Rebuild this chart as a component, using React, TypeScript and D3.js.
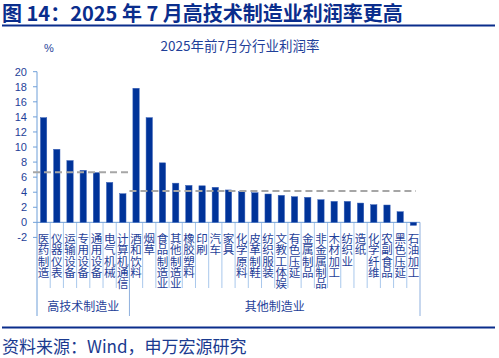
import React from "react";
import * as d3 from "d3";

const categories = [
  "医药制造", "仪器仪表", "运输设备", "专用设备", "通用设备", "电气机械", "计算机通信",
  "酒和饮料", "烟草", "食品制造业", "其他制造业", "橡胶塑料", "印刷", "汽车", "家具",
  "化学原料", "皮革制鞋", "纺织服装", "文教工体娱", "有色压延", "金属制品", "非金属制品",
  "木材加工", "纺织业", "造纸", "化学纤维", "农副食品", "黑色压延", "石油加工",
];
const values = [
  13.9, 9.7, 8.2, 6.9, 6.6, 5.3, 3.8,
  17.8, 13.9, 7.9, 5.2, 4.9, 4.85, 4.65, 4.3,
  4.07, 3.93, 3.76, 3.58, 3.4, 3.32, 3.0,
  2.78, 2.78, 2.56, 2.34, 2.3, 1.41, -0.4,
];
const groupNames = ["高技术制造业", "其他制造业"];
const groupSizes = [7, 22];
const groupAverages = [6.65, 4.15];
const yTicks = [-2, 0, 2, 4, 6, 8, 10, 12, 14, 16, 18, 20];

const W = 499;
const H = 358;
const BLUE = "#003399";
const TEXT = "#1F3F99";
const CJK = "'Noto Sans CJK SC', 'Noto Sans', sans-serif";
const NUM = "'Liberation Sans', Arial, sans-serif";

export default function App() {
  const x = d3.scaleBand<string>().domain(categories).range([37, 420]).paddingInner(0).paddingOuter(0);
  const y = d3.scaleLinear().domain([-2, 20]).range([237.4, 71.7]);
  const bw = x.bandwidth();
  const barW = bw * 0.48;
  const x0 = x.range()[0];
  const x1 = x.range()[1];

  const bounds: number[] = [x0];
  let acc = 0;
  groupSizes.forEach((s) => {
    acc += s;
    bounds.push(x0 + acc * bw);
  });

  return (
    <svg width={W} height={H} style={{ position: "absolute", left: 0, top: 0 }}>
      <rect x={0} y={0} width={W} height={H} fill="#fff" />
      {/* Title */}
      <text x={2} y={20.5} fontFamily={CJK} fontWeight="bold" fontSize={20} fill="#0A2D8C">
        图 14：2025 年 7 月高技术制造业利润率更高
      </text>
      <rect x={2} y={24.5} width={493} height={2} fill="#0A2D8C" />

      {/* Subtitle and unit */}
      <text x={240} y={51} textAnchor="middle" fontFamily={CJK} fontSize={13.5} fill={TEXT}>
        2025年前7月分行业利润率
      </text>
      <text x={49} y={52} textAnchor="middle" fontFamily={NUM} fontSize={11} fill={TEXT}>
        %
      </text>

      {/* Y axis */}
      <line x1={x0} x2={x0} y1={y(20)} y2={316} stroke="#6F9FD8" strokeWidth={1} />
      {yTicks.map((t) => (
        <g key={t}>
          <line x1={x0 - 4} x2={x0} y1={y(t)} y2={y(t)} stroke="#6F9FD8" />
          <text x={27} y={y(t) + 4} textAnchor="end" fontFamily={NUM} fontSize={11} fill={TEXT}>
            {t}
          </text>
        </g>
      ))}

      {/* Category dividers */}
      {categories.map((c, i) =>
        i === 0 ? null : (
          <line
            key={"d" + c}
            x1={x0 + i * bw}
            x2={x0 + i * bw}
            y1={y(0)}
            y2={288}
            stroke="#A9C8EC"
            strokeWidth={1}
          />
        )
      )}
      {bounds.slice(1).map((b, i) => (
        <line key={"g" + i} x1={b} x2={b} y1={y(0)} y2={316} stroke="#8FB0DE" strokeWidth={1} />
      ))}
      <line x1={x0} x2={x1} y1={y(0)} y2={y(0)} stroke="#6F9FD8" strokeWidth={1} />

      {/* Bars */}
      {categories.map((c, i) => {
        const v = values[i];
        const cx = (x(c) as number) + bw / 2;
        const top = y(Math.max(0, v));
        const bottom = y(Math.min(0, v));
        return (
          <rect
            key={"b" + c}
            x={cx - barW / 2}
            y={top}
            width={barW}
            height={Math.max(0.5, bottom - top)}
            fill={BLUE}
            stroke="#3A62B8"
            strokeWidth={0.5}
          />
        );
      })}

      {/* Average dashed lines */}
      {groupAverages.map((a, i) => (
        <line
          key={"a" + i}
          x1={i === 0 ? bounds[0] - 4 : bounds[i]}
          x2={i === groupAverages.length - 1 ? bounds[i + 1] - 4 : bounds[i + 1]}
          y1={y(a)}
          y2={y(a)}
          stroke="#A6A6A6"
          strokeWidth={2}
          strokeDasharray="7,4"
        />
      ))}

      {/* Category labels (vertical, one character per line) */}
      {categories.map((c) => {
        const cx = (x(c) as number) + bw / 2;
        return (
          <g key={"l" + c}>
            {Array.from(c).map((ch, j) => (
              <text
                key={j}
                x={cx}
                y={243 + j * 11.3}
                fontFamily={CJK}
                fontSize={11.5}
                fill={TEXT}
                textAnchor="middle"
              >
                {ch}
              </text>
            ))}
          </g>
        );
      })}

      {/* Group labels */}
      {groupNames.map((g, i) => (
        <text
          key={"gn" + g}
          x={(bounds[i] + bounds[i + 1]) / 2}
          y={311}
          textAnchor="middle"
          fontFamily={CJK}
          fontSize={12}
          fill={TEXT}
        >
          {g}
        </text>
      ))}

      {/* Bottom rule and source */}
      <rect x={2} y={326.5} width={493} height={2} fill="#0A2D8C" />
      <text x={2} y={353} fontFamily={CJK} fontSize={17} fill="#1A3A8F">
        资料来源：Wind，申万宏源研究
      </text>
    </svg>
  );
}
